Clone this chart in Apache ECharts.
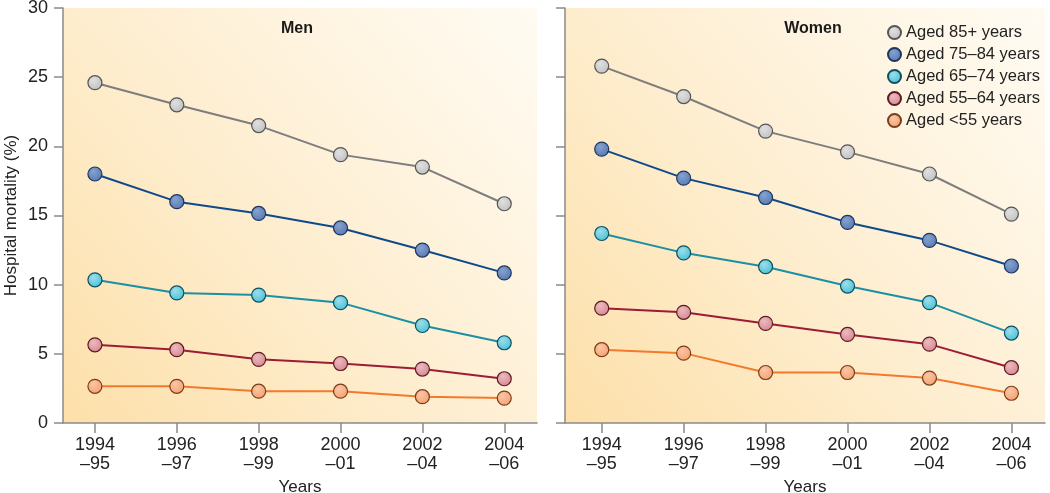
<!DOCTYPE html>
<html>
<head>
<meta charset="utf-8">
<script src="https://cdn.jsdelivr.net/npm/echarts@6/dist/echarts.min.js"></script>
<style>
  html, body { margin: 0; padding: 0; background: #fff; }
  #main { width: 1050px; height: 493px; }
</style>
</head>
<body>
<div id="main"></div>
<script>
var startYears = ["1994", "1996", "1998", "2000", "2002", "2004"];
var endYears = ["–95", "–97", "–99", "–01", "–04", "–06"];
var groups = ["Aged 85+ years", "Aged 75–84 years", "Aged 65–74 years", "Aged 55–64 years", "Aged <55 years"];

var men85 = [24.6, 23.0, 21.5, 19.4, 18.5, 15.85];
var men75 = [18.0, 16.0, 15.15, 14.1, 12.5, 10.85];
var men65 = [10.35, 9.4, 9.25, 8.7, 7.05, 5.8];
var men55 = [5.65, 5.3, 4.6, 4.3, 3.9, 3.2];
var menU55 = [2.65, 2.65, 2.3, 2.3, 1.9, 1.8];

var women85 = [25.8, 23.6, 21.1, 19.6, 18.0, 15.1];
var women75 = [19.8, 17.7, 16.3, 14.5, 13.2, 11.35];
var women65 = [13.7, 12.3, 11.3, 9.9, 8.7, 6.5];
var women55 = [8.3, 8.0, 7.2, 6.4, 5.7, 4.0];
var womenU55 = [5.3, 5.05, 3.65, 3.65, 3.25, 2.15];

var yTicks = [0, 5, 10, 15, 20, 25, 30];

var lineColors = ["#7d7d7d", "#0e4a8a", "#1b8fa4", "#9c1c36", "#f27a2c"];
var fillColors = ["#c0c0c0", "#5578b0", "#45c0d6", "#d4868e", "#f59f6e"];
var lightColors = ["#e0e0e0", "#86a2ce", "#9cdeea", "#ecbac0", "#fbc6a6"];
var borderColors = ["#555555", "#1e3560", "#0f5060", "#5e1a22", "#7a3d1a"];

var font = "Liberation Sans";
var ticks = startYears.map(function (d, i) { return i; });

function marker(i) {
  return {
    type: "radial", x: 0.4, y: 0.35, r: 0.7,
    colorStops: [{ offset: 0, color: lightColors[i] }, { offset: 1, color: fillColors[i] }]
  };
}

function bg() {
  return {
    type: "linear", x: 0, y: 1, x2: 1, y2: 0,
    colorStops: [{ offset: 0, color: "#fde0aa" }, { offset: 0.55, color: "#fef0d6" }, { offset: 1, color: "#fffbf3" }]
  };
}

function xAxis(idx, min, max) {
  return {
    type: "value", gridIndex: idx, min: min, max: max,
    name: "Years", nameLocation: "middle", nameGap: 50,
    nameTextStyle: { fontFamily: font, fontSize: 17, color: "#222" },
    axisLine: { show: true, onZero: false, lineStyle: { color: "#8a8a8a", width: 1.5 } },
    axisTick: { show: true, length: 10, customValues: ticks, lineStyle: { color: "#8a8a8a", width: 1.5 } },
    axisLabel: {
      customValues: ticks, margin: 13, fontFamily: font, fontSize: 18, color: "#222", lineHeight: 19,
      formatter: function (v) { var k = Math.round(v); return startYears[k] + "\n" + endYears[k]; }
    },
    splitLine: { show: false }
  };
}

function yAxis(idx, showLabels) {
  return {
    type: "value", gridIndex: idx, min: 0, max: 30, interval: 5,
    name: showLabels ? "Hospital mortality (%)" : "", nameLocation: "middle", nameGap: 43,
    nameTextStyle: { fontFamily: font, fontSize: 17, color: "#222" },
    axisLine: { show: true, onZero: false, lineStyle: { color: "#8a8a8a", width: 1.5 } },
    axisTick: { show: true, length: 9, lineStyle: { color: "#8a8a8a", width: 1.5 } },
    axisLabel: { show: showLabels, margin: 15, fontFamily: font, fontSize: 18, color: "#222",
      customValues: yTicks },
    splitLine: { show: false }
  };
}

function makeSeries(idx, sets) {
  return sets.map(function (vals, i) {
    return {
      name: groups[i], type: "line", xAxisIndex: idx, yAxisIndex: idx,
      data: vals.map(function (v, k) { return [k, v]; }),
      symbol: "circle", symbolSize: 14,
      lineStyle: { color: lineColors[i], width: 2 },
      itemStyle: { color: marker(i), borderColor: borderColors[i], borderWidth: 1.2 },
      emphasis: { disabled: true },
      z: 10 - i
    };
  });
}

var chart = echarts.init(document.getElementById("main"), null, { renderer: "canvas" });

var option = {
  backgroundColor: "#ffffff",
  animation: false,
  title: [
    { text: "Men", left: 292, top: 16, textAlign: "center", textStyle: { fontFamily: font, fontSize: 16, fontWeight: "bold", color: "#1a1a1a" } },
    { text: "Women", left: 808, top: 16, textAlign: "center", textStyle: { fontFamily: font, fontSize: 16, fontWeight: "bold", color: "#1a1a1a" } }
  ],
  legend: {
    data: groups, orient: "vertical", left: 882, top: 19, itemGap: 5,
    icon: "circle", itemWidth: 13, itemHeight: 13,
    textStyle: { fontFamily: font, fontSize: 16.5, color: "#222" }
  },
  grid: [
    { left: 63, right: 513, top: 8, bottom: 70, outerBoundsMode: "none", show: true, borderWidth: 0, backgroundColor: bg() },
    { left: 565, right: 5, top: 8, bottom: 70, outerBoundsMode: "none", show: true, borderWidth: 0, backgroundColor: bg() }
  ],
  xAxis: [xAxis(0, -0.39, 5.4), xAxis(1, -0.448, 5.41)],
  yAxis: [yAxis(0, true), yAxis(1, false)],
  series: makeSeries(0, [men85, men75, men65, men55, menU55])
    .concat(makeSeries(1, [women85, women75, women65, women55, womenU55]))
};

chart.setOption(option);
</script>
</body>
</html>
